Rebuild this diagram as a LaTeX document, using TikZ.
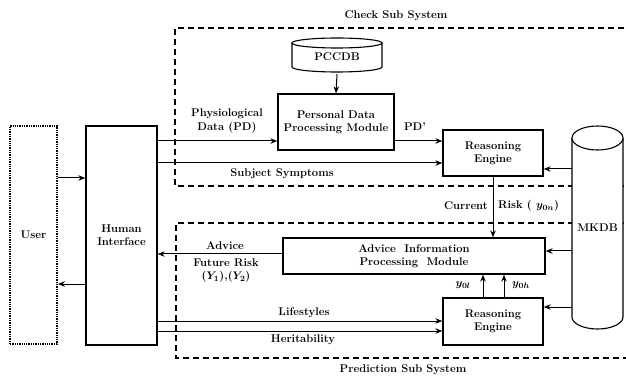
\documentclass[tikz,border=0pt]{standalone}
\usetikzlibrary{arrows.meta}
\newcommand{\lblfont}{\fontsize{11.2}{13.2}\selectfont\bfseries\boldmath}
\begin{document}
\begin{tikzpicture}[x=1pt,y=1pt,
 box/.style={draw, line width=1.3pt, inner sep=0pt, align=center, font=\lblfont},
 arr/.style={line width=1pt, -{Stealth[length=7pt,width=5.5pt]}},
 subsys/.style={draw, line width=1.5pt, dash pattern=on 6pt off 4pt},
 lbl/.style={font=\lblfont, inner sep=0pt, align=center},
 cyl/.style={draw, line width=1.1pt, fill=white}]
\useasboundingbox (0,0) rectangle (626,-379);
% sub systems
\draw[subsys] (634,-28) -- (175,-28) -- (175,-186) -- (634,-186);
\draw[subsys] (634,-223) -- (176,-223) -- (176,-358) -- (634,-358);
\node[lbl] (check) at (396,-16) {Check Sub System};
\node[lbl] (pred) at (403,-370) {Prediction Sub System};
% boxes
\node[box, densely dotted, line width=1.8pt, minimum width=47pt, minimum height=218pt] (user) at (33.5,-235) {User};
\node[box, minimum width=71pt, minimum height=219pt] (hi) at (121.5,-235.5) {Human\\Interface};
\node[box, minimum width=116pt, minimum height=56pt] (pdpm) at (336,-122) {Personal Data\\Processing Module};
\node[box, minimum width=100pt, minimum height=46pt] (re1) at (493,-153) {Reasoning\\Engine};
\node[box, minimum width=262pt, minimum height=36pt] (aipm) at (414,-256) {Advice\ \ Information\\Processing\ \ Module};
\node[box, minimum width=100pt, minimum height=47pt] (re2) at (493,-321.5) {Reasoning\\Engine};
% PCCDB cylinder
\draw[cyl] (292,-43) -- (292,-67) arc[start angle=180, end angle=360, x radius=45pt, y radius=5pt] -- (382,-43);
\draw[cyl] (337,-43) ellipse[x radius=45pt, y radius=5pt];
\node[lbl, minimum width=90pt, minimum height=34pt] (pccdb) at (337,-57) {PCCDB};
% MKDB cylinder
\draw[cyl] (572,-138) -- (572,-317) arc[start angle=180, end angle=360, x radius=25.5pt, y radius=12pt] -- (623,-138);
\draw[cyl] (597.5,-138) ellipse[x radius=25.5pt, y radius=12pt];
\node[lbl, minimum width=51pt, minimum height=204pt] (mkdb) at (597.5,-228) {MKDB};
% connectors
\draw[arr] (user.east |- 0,-178) -- (hi.west |- 0,-178);
\draw[arr] (hi.west |- 0,-284) -- (user.east |- 0,-284);
\draw[arr] (hi.east |- 0,-141) -- (pdpm.west |- 0,-141);
\draw[arr] (hi.east |- 0,-163) -- (re1.west |- 0,-163);
\draw[arr] (pccdb.south) -- (pdpm.north);
\draw[arr] (pdpm.east |- 0,-141) -- (re1.west |- 0,-141);
\draw[arr] (mkdb.west |- 0,-169) -- (re1.east |- 0,-169);
\draw[arr] (re1.south) -- (re1.south |- aipm.north);
\draw[arr] (mkdb.west |- 0,-251) -- (aipm.east |- 0,-251);
\draw[arr] (mkdb.west |- 0,-307) -- (re2.east |- 0,-307);
\draw[arr] (aipm.west |- 0,-254) -- (hi.east |- 0,-254);
\draw[arr] (hi.east |- 0,-321) -- (re2.west |- 0,-321);
\draw[arr] (hi.east |- 0,-331) -- (re2.west |- 0,-331);
\draw[arr] ([xshift=-10pt]re2.north) -- ([xshift=-10pt]re2.north |- aipm.south);
\draw[arr] ([xshift=11pt]re2.north) -- ([xshift=11pt]re2.north |- aipm.south);
% labels
\node[lbl] (phys) at (227,-121) {Physiological\\Data (PD)};
\node[lbl] (subj) at (282,-174) {Subject Symptoms};
\node[lbl] (pdp) at (415,-127) {PD'};
\node[lbl, anchor=east] (cur) at (488,-206) {Current};
\node[lbl, anchor=west] (risk) at (498,-206) {Risk ( $y_{0n}$)};
\node[lbl] (adv) at (225,-246) {Advice};
\node[lbl] (fut) at (226,-270.5) {Future Risk\\($Y_1$),($Y_2$)};
\node[lbl] (life) at (304,-313) {Lifestyles};
\node[lbl] (her) at (303,-340) {Heritability};
\node[lbl] (yl) at (463,-285) {$y_{0l}$};
\node[lbl] (yh) at (521,-285) {$y_{0h}$};
\end{tikzpicture}
\end{document}
